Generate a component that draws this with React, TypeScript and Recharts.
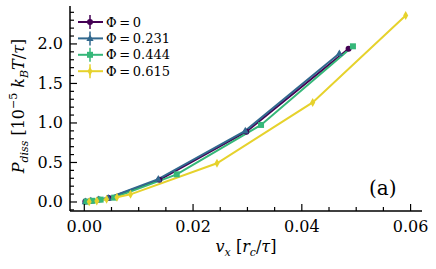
import { LineChart, Line, XAxis, YAxis, Legend } from 'recharts'

const FONT = '"DejaVu Serif", serif'

// values (v_x, P_diss)
const phi0 = [
  { x: 0.0002, y: 0.005 },
  { x: 0.0012, y: 0.015 },
  { x: 0.0027, y: 0.03 },
  { x: 0.0045, y: 0.05 },
  { x: 0.0138, y: 0.28 },
  { x: 0.0298, y: 0.89 },
  { x: 0.0486, y: 1.94 },
]
const phi231 = [
  { x: 0.0002, y: 0.005 },
  { x: 0.0012, y: 0.015 },
  { x: 0.0026, y: 0.03 },
  { x: 0.0044, y: 0.05 },
  { x: 0.0136, y: 0.29 },
  { x: 0.0296, y: 0.9 },
  { x: 0.0469, y: 1.88 },
]
const phi444 = [
  { x: 0.0004, y: 0.005 },
  { x: 0.0015, y: 0.015 },
  { x: 0.003, y: 0.03 },
  { x: 0.0055, y: 0.055 },
  { x: 0.017, y: 0.35 },
  { x: 0.0325, y: 0.975 },
  { x: 0.0494, y: 1.97 },
]
const phi615 = [
  { x: 0.0009, y: 0.004 },
  { x: 0.0023, y: 0.013 },
  { x: 0.0041, y: 0.034 },
  { x: 0.006, y: 0.06 },
  { x: 0.0085, y: 0.097 },
  { x: 0.0244, y: 0.49 },
  { x: 0.042, y: 1.26 },
  { x: 0.0591, y: 2.36 },
]

const xMajor = [0, 0.02, 0.04, 0.06]
const xTicks = [0, 0.005, 0.01, 0.015, 0.02, 0.025, 0.03, 0.035, 0.04, 0.045, 0.05, 0.055, 0.06]
const yMajor = [0, 0.5, 1, 1.5, 2]
const yTicks = [
  -0.1, 0, 0.1, 0.2, 0.3, 0.4, 0.5, 0.6, 0.7, 0.8, 0.9, 1, 1.1, 1.2, 1.3, 1.4, 1.5, 1.6, 1.7, 1.8, 1.9, 2,
  2.1, 2.2, 2.3, 2.4,
]

const COLORS = ['#440154', '#31688e', '#35b779', '#e6d22c']

const isMajor = (v: number, majors: number[]) => majors.some((m) => Math.abs(m - v) < 1e-9)

const BottomTick = (props: any) => {
  const { x, y, payload } = props
  const major = isMajor(payload.value, xMajor)
  return (
    <g>
      <line x1={x} x2={x} y1={y} y2={y - (major ? 7 : 4)} stroke="#000" strokeWidth={1.2} />
      {major && (
        <text x={x} y={y + 15} textAnchor="middle" dominantBaseline="central" fontFamily={FONT} fontSize={16} fill="#000">
          {payload.value.toFixed(2)}
        </text>
      )}
    </g>
  )
}

const TopTick = (props: any) => {
  const { x, y, payload } = props
  const major = isMajor(payload.value, xMajor)
  return <line x1={x} x2={x} y1={y} y2={y + (major ? 7 : 4)} stroke="#000" strokeWidth={1.2} />
}

const LeftTick = (props: any) => {
  const { x, y, payload } = props
  const major = isMajor(payload.value, yMajor)
  return (
    <g>
      <line x1={x} x2={x + (major ? 7 : 4)} y1={y} y2={y} stroke="#000" strokeWidth={1.2} />
      {major && (
        <text x={x - 7} y={y} textAnchor="end" dominantBaseline="central" fontFamily={FONT} fontSize={16} fill="#000">
          {payload.value.toFixed(1)}
        </text>
      )}
    </g>
  )
}

const RightTick = (props: any) => {
  const { x, y, payload } = props
  const major = isMajor(payload.value, yMajor)
  return <line x1={x} x2={x - (major ? 7 : 4)} y1={y} y2={y} stroke="#000" strokeWidth={1.2} />
}

const marker = (shape: string, color: string, cx: number, cy: number) => {
  if (shape === 'circle') return <circle cx={cx} cy={cy} r={3} fill={color} />
  if (shape === 'triangle')
    return <path d={`M${cx},${cy - 4} L${cx + 3.6},${cy + 2.6} L${cx - 3.6},${cy + 2.6} Z`} fill={color} />
  if (shape === 'square') return <rect x={cx - 3} y={cy - 3} width={6} height={6} fill={color} />
  return <path d={`M${cx},${cy - 4.5} L${cx + 2.5},${cy} L${cx},${cy + 4.5} L${cx - 2.5},${cy} Z`} fill={color} />
}

const makeDot = (shape: string, color: string) => (p: any) => {
  if (p.cx == null || p.cy == null) return <g key={p.key} />
  return (
    <g key={p.key}>
      <line x1={p.cx} x2={p.cx} y1={p.cy - 2} y2={p.cy + 2} stroke={color} strokeWidth={1.5} />
      {marker(shape, color, p.cx, p.cy)}
    </g>
  )
}

const SHAPES = ['circle', 'triangle', 'square', 'diamond']

const LegendBox = (props: any) => {
  const items = props.payload || []
  return (
    <svg width={110} height={70}>
      {items.map((it: any, i: number) => {
        const cy = 8 + i * 16.4
        const color = it.color
        return (
          <g key={it.value}>
            <line x1={2} x2={27} y1={cy} y2={cy} stroke={color} strokeWidth={2} />
            <line x1={14} x2={14} y1={cy - 7} y2={cy + 7} stroke={color} strokeWidth={1.5} />
            {marker(SHAPES[i], color, 14, cy)}
            <text x={30} y={cy} dominantBaseline="central" fontFamily={FONT} fontSize={13} fill="#000">
              {it.value}
            </text>
          </g>
        )
      })}
    </svg>
  )
}

const YLabel = () => (
  <text transform="rotate(-90)" x={-106} y={24} textAnchor="middle" fontFamily={FONT} fontSize={16} fill="#000">
    <tspan fontStyle="italic">P</tspan>
    <tspan fontStyle="italic" fontSize={11} dy={4}>diss</tspan>
    <tspan dy={-4}>{' [10'}</tspan>
    <tspan fontSize={11} dy={-7}>−5</tspan>
    <tspan dy={7}>{' '}</tspan>
    <tspan fontStyle="italic">k</tspan>
    <tspan fontStyle="italic" fontSize={11} dy={4}>B</tspan>
    <tspan fontStyle="italic" dy={-4}>T</tspan>
    <tspan>/</tspan>
    <tspan fontStyle="italic">τ</tspan>
    <tspan>]</tspan>
  </text>
)

const XLabel = () => (
  <text x={246} y={252} textAnchor="middle" fontFamily={FONT} fontSize={16} fill="#000">
    <tspan fontStyle="italic">v</tspan>
    <tspan fontStyle="italic" fontSize={11} dy={4}>x</tspan>
    <tspan dy={-4}>{' ['}</tspan>
    <tspan fontStyle="italic">r</tspan>
    <tspan fontStyle="italic" fontSize={11} dy={4}>c</tspan>
    <tspan dy={-4}>/</tspan>
    <tspan fontStyle="italic">τ</tspan>
    <tspan>]</tspan>
  </text>
)

const series = [
  { name: 'Φ\u2009=\u20090', data: phi0 },
  { name: 'Φ\u2009=\u20090.231', data: phi231 },
  { name: 'Φ\u2009=\u20090.444', data: phi444 },
  { name: 'Φ\u2009=\u20090.615', data: phi615 },
]

export default function App() {
  const axisLine = { stroke: '#000', strokeWidth: 1.5 }
  return (
    <div style={{ position: 'absolute', left: 0, top: 0, width: 436, height: 269, background: '#fff' }}>
      <LineChart width={436} height={269} margin={{ top: 6, right: 14, left: 0, bottom: 0 }}>
        <XAxis
          xAxisId="bottom"
          type="number"
          dataKey="x"
          domain={[-0.00263, 0.0621]}
          allowDataOverflow
          ticks={xTicks}
          interval={0}
          tickSize={0}
          tickMargin={0}
          tickLine={false}
          tick={BottomTick}
          axisLine={axisLine}
          height={58}
          label={{ content: XLabel }}
        />
        <XAxis
          xAxisId="top"
          orientation="top"
          type="number"
          dataKey="x"
          domain={[-0.00263, 0.0621]}
          allowDataOverflow
          ticks={xTicks}
          interval={0}
          tickSize={0}
          tickMargin={0}
          tickLine={false}
          tick={TopTick}
          axisLine={axisLine}
          height={0}
        />
        <YAxis
          yAxisId="left"
          type="number"
          domain={[-0.114, 2.48]}
          allowDataOverflow
          ticks={yTicks}
          interval={0}
          tickSize={0}
          tickMargin={0}
          tickLine={false}
          tick={LeftTick}
          axisLine={axisLine}
          width={70}
          label={{ content: YLabel }}
        />
        <YAxis
          yAxisId="right"
          orientation="right"
          type="number"
          domain={[-0.114, 2.48]}
          allowDataOverflow
          ticks={yTicks}
          interval={0}
          tickSize={0}
          tickMargin={0}
          tickLine={false}
          tick={RightTick}
          axisLine={axisLine}
          width={0}
        />
        {series.map((s, i) => (
          <Line
            key={s.name}
            name={s.name}
            data={s.data}
            dataKey="y"
            xAxisId="bottom"
            yAxisId="left"
            stroke={COLORS[i]}
            strokeWidth={2}
            dot={makeDot(SHAPES[i], COLORS[i])}
            activeDot={false}
            isAnimationActive={false}
          />
        ))}
        <Legend
          layout="horizontal"
          verticalAlign="middle"
          align="center"
          content={LegendBox}
          wrapperStyle={{ position: 'absolute', left: 76, top: 14, width: 110, height: 70 }}
        />
      </LineChart>
      <div
        style={{
          position: 'absolute',
          left: 369,
          top: 175,
          fontFamily: FONT,
          fontSize: 20,
          lineHeight: '26px',
          color: '#000',
        }}
      >
        (a)
      </div>
    </div>
  )
}
